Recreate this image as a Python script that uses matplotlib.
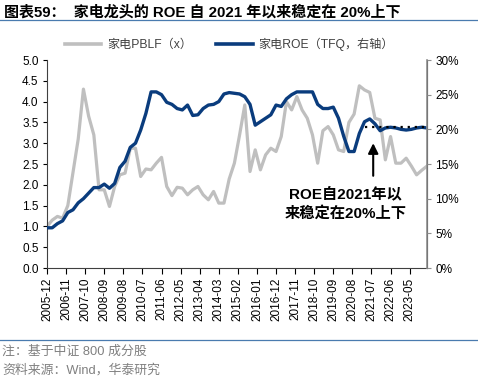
import matplotlib
matplotlib.use('Agg')
import matplotlib.pyplot as plt
import numpy as np
from matplotlib.lines import Line2D

plt.rcParams['font.family'] = ['Liberation Sans', 'Noto Sans CJK SC']

# quarterly points, 2005-12 .. 2024-03 (month index from 2005-12)
months = list(range(0, 220, 3))

pblf = [1.0, 1.15, 1.24, 1.2, 1.5, 2.3, 3.1, 4.3, 3.65, 3.2,
        1.88, 1.88, 1.48, 1.96, 2.24, 2.28, 2.88, 2.88, 2.2, 2.38,
        2.36, 2.52, 2.66, 1.96, 1.74, 1.94, 1.92, 1.76, 1.88, 1.96,
        1.76, 1.64, 1.84, 1.56, 1.56, 2.14, 2.52, 3.2, 3.92, 2.32,
        2.84, 2.36, 2.72, 2.88, 2.8, 3.16, 4.0, 3.8, 4.12, 3.8,
        3.6, 3.2, 2.52, 3.3, 3.4, 3.2, 2.84, 2.8, 3.5, 3.7,
        4.38, 4.28, 4.22, 3.6, 3.56, 2.6, 3.16, 2.52, 2.52, 2.64,
        2.45, 2.24, 2.35, 2.45]

roe = [5.8, 5.8, 6.4, 6.8, 8.0, 8.4, 9.4, 10.0, 10.8, 11.6,
       11.6, 12.1, 11.5, 12.2, 14.5, 15.4, 17.4, 18.0, 19.9, 22.3,
       25.4, 25.4, 25.0, 23.9, 23.6, 23.0, 22.8, 23.5, 22.0, 22.1,
       23.0, 23.5, 23.6, 24.0, 25.1, 25.3, 25.2, 25.1, 24.7, 23.6,
       20.6, 21.1, 21.6, 22.1, 23.5, 23.3, 24.4, 25.0, 25.4, 25.4,
       25.4, 25.4, 23.6, 23.0, 23.0, 23.2, 21.6, 19.0, 16.8, 16.8,
       19.4, 21.1, 21.5, 20.8, 19.8, 20.2, 20.3, 20.2, 20.0, 19.9,
       20.0, 20.2, 20.3, 20.2]

tick_pos = list(range(0, 210, 11))
tick_labels = ['2005-12', '2006-11', '2007-10', '2008-09', '2009-08', '2010-07',
               '2011-06', '2012-05', '2013-04', '2014-03', '2015-02', '2016-01',
               '2016-12', '2017-11', '2018-10', '2019-09', '2020-08', '2021-07',
               '2022-06', '2023-05']

# stable level line since 2021
flat_x = [183, 219]
flat_y = [20.3, 20.3]

gray = '#BFBFBF'
blue = '#0A3C7D'

fig = plt.figure(figsize=(4.78, 3.8), dpi=100)
ax = fig.add_axes([0.0983, 0.2947, 0.795, 0.5474])
ax2 = ax.twinx()

ax.plot(months, pblf, color=gray, lw=2.3, solid_joinstyle='round')
ax2.plot(months, roe, color=blue, lw=2.4, solid_joinstyle='round')
ax2.plot(flat_x, flat_y, color='black', lw=1.6, ls=(0, (1, 2.2)))

ax.set_xlim(0, 219)
ax.set_ylim(0, 5)
ax2.set_ylim(0, 30)
ax.set_yticks(np.arange(0, 5.01, 0.5))
ax.set_yticklabels(['%.1f' % v for v in np.arange(0, 5.01, 0.5)])
ax2.set_yticks(range(0, 31, 5))
ax2.set_yticklabels(['%d%%' % v for v in range(0, 31, 5)])
ax.set_xticks(tick_pos)
ax.set_xticklabels(tick_labels, rotation=90)

for a in (ax, ax2):
    a.spines['top'].set_visible(False)
    a.tick_params(labelsize=8.5, length=3, width=0.8, pad=3, colors='black')
ax.spines['left'].set_color('#404040')
ax.spines['bottom'].set_color('#404040')
ax2.spines['right'].set_color('#909090')
ax2.spines['right'].set_linewidth(1.2)
ax2.spines['left'].set_visible(False)
ax2.spines['bottom'].set_visible(False)
ax2.tick_params(axis='y', color='#909090')
ax.tick_params(axis='x', length=4)

# annotation arrow and text
ax2.annotate('', xy=(188, 18.0), xytext=(188, 13.3),
             arrowprops=dict(arrowstyle='-|>', color='black', lw=1.5,
                             mutation_scale=15, shrinkA=0, shrinkB=0))
ax2.text(172, 9.3, 'ROE自2021年以\n来稳定在20%上下', ha='center', va='center',
         fontsize=11, fontweight='bold', linespacing=1.45)

# legend
handles = [Line2D([], [], color=gray, lw=2.6), Line2D([], [], color=blue, lw=2.6)]
fig.legend(handles, ['家电PBLF（x）', '家电ROE（TFQ，右轴）'], loc='center',
           bbox_to_anchor=(0.48, 0.884), ncol=2, frameon=False, fontsize=8.7,
           handlelength=3.0, columnspacing=2.0, handletextpad=0.5,
           labelcolor='#404040')

# title and notes
fig.text(0.008, 0.968, '图表59：  家电龙头的 ROE 自 2021 年以来稳定在 20%上下',
         fontsize=10.8, fontweight='bold', va='center', ha='left')
fig.add_artist(Line2D([0, 1], [0.947, 0.947], color='#4A7BAF', lw=0.9))
fig.add_artist(Line2D([0, 1], [0.105, 0.105], color='#4A7BAF', lw=0.9))
fig.text(0.004, 0.076, '注：基于中证 800 成分股', fontsize=9.3, color='#808080', va='center')
fig.text(0.004, 0.026, '资料来源：Wind，华泰研究', fontsize=9.3, color='#808080', va='center')

fig.savefig('out.png', dpi=100)
